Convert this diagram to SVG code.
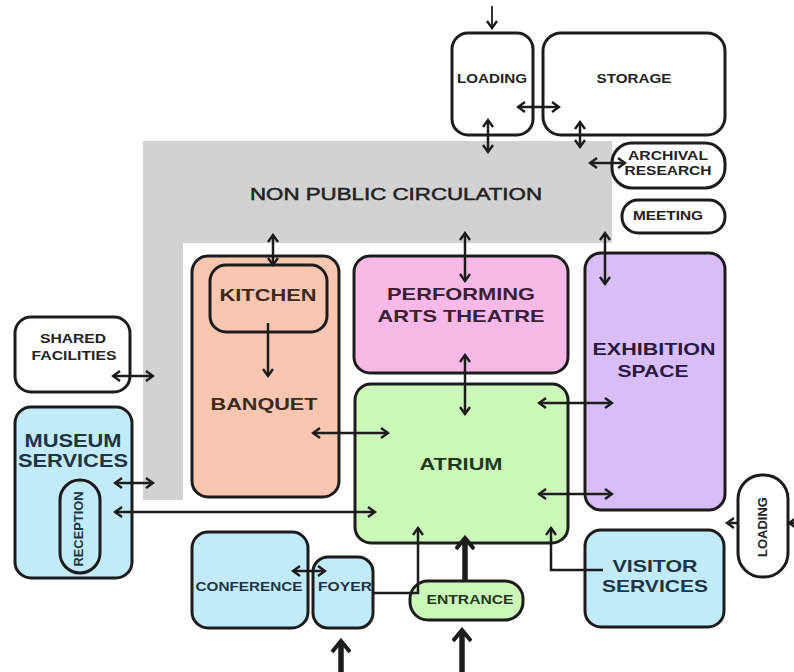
<svg xmlns="http://www.w3.org/2000/svg" width="794" height="672" viewBox="0 0 794 672">
<defs>
<style>
.box{stroke:#1c1c1c;stroke-width:3}
.t{font-family:"Liberation Sans",Arial,sans-serif;font-weight:bold;text-anchor:middle}
.c{fill:none;stroke:#1c1c1c;stroke-width:2.5}
.cb{fill:none;stroke:#1c1c1c;stroke-width:5.5}
.one{marker-end:url(#ah)}
.two{marker-start:url(#ah);marker-end:url(#ah)}
.big{marker-end:url(#ahb)}
</style>
<marker id="ah" viewBox="0 0 12 12" refX="10" refY="6" markerWidth="12" markerHeight="12" markerUnits="userSpaceOnUse" orient="auto-start-reverse">
<path d="M3,1 L10,6 L3,11" fill="none" stroke="#1c1c1c" stroke-width="2.4"/>
</marker>
<marker id="ahb" viewBox="0 0 20 20" refX="17" refY="10" markerWidth="20" markerHeight="20" markerUnits="userSpaceOnUse" orient="auto">
<path d="M6,1 L17,10 L6,19" fill="none" stroke="#1c1c1c" stroke-width="4"/>
</marker>
</defs>
<rect width="794" height="672" fill="#ffffff"/>

<g id="non-public-circulation">
<path d="M143,141 H612 V243 H183 V500 H143 Z" fill="#d2d2d2"/>
<text x="396" y="200" font-family="Liberation Sans, Arial, sans-serif" font-size="17" text-anchor="middle" fill="#222" stroke="#222" stroke-width="0.5" textLength="292" lengthAdjust="spacingAndGlyphs">NON PUBLIC CIRCULATION</text>
</g>

<g id="loading-top">
<rect class="box" x="452" y="33" width="81" height="102" rx="16" fill="#ffffff"/>
<text class="t" x="492" y="83" font-size="12" fill="#222" textLength="70" lengthAdjust="spacingAndGlyphs">LOADING</text>
</g>
<g id="storage">
<rect class="box" x="543" y="33" width="182" height="102" rx="18" fill="#ffffff"/>
<text class="t" x="634" y="83" font-size="12" fill="#222" textLength="75" lengthAdjust="spacingAndGlyphs">STORAGE</text>
</g>
<g id="archival-research">
<rect class="box" x="612" y="143" width="113" height="45" rx="20" fill="#ffffff"/>
<text class="t" x="668" y="160" font-size="12" fill="#222" textLength="80" lengthAdjust="spacingAndGlyphs">ARCHIVAL</text>
<text class="t" x="668" y="175" font-size="12" fill="#222" textLength="87" lengthAdjust="spacingAndGlyphs">RESEARCH</text>
</g>
<g id="meeting">
<rect class="box" x="622" y="200" width="103" height="33" rx="16" fill="#ffffff"/>
<text class="t" x="668" y="220" font-size="12" fill="#222" textLength="70" lengthAdjust="spacingAndGlyphs">MEETING</text>
</g>

<g id="banquet">
<rect class="box" x="192" y="256" width="147" height="241" rx="16" fill="#f9c6b0"/>
<text class="t" x="264" y="410" font-size="17" fill="#3b2a20" textLength="107" lengthAdjust="spacingAndGlyphs">BANQUET</text>
</g>
<g id="kitchen">
<rect class="box" x="210" y="265" width="117" height="67" rx="16" fill="#f9c6b0"/>
<text class="t" x="268" y="301" font-size="17" fill="#3b2a20" textLength="97" lengthAdjust="spacingAndGlyphs">KITCHEN</text>
</g>
<g id="performing-arts-theatre">
<rect class="box" x="354" y="256" width="214" height="117" rx="16" fill="#f8b8e8"/>
<text class="t" x="461" y="300" font-size="17" fill="#3a2035" textLength="148" lengthAdjust="spacingAndGlyphs">PERFORMING</text>
<text class="t" x="461" y="322" font-size="17" fill="#3a2035" textLength="167" lengthAdjust="spacingAndGlyphs">ARTS THEATRE</text>
</g>
<g id="atrium">
<rect class="box" x="355" y="384" width="213" height="159" rx="16" fill="#cbf7b8"/>
<text class="t" x="461" y="470" font-size="17" fill="#1f3a1a" textLength="83" lengthAdjust="spacingAndGlyphs">ATRIUM</text>
</g>
<g id="exhibition-space">
<rect class="box" x="585" y="253" width="140" height="257" rx="16" fill="#d9bdf7"/>
<text class="t" x="654" y="355" font-size="17" fill="#2a1a40" textLength="123" lengthAdjust="spacingAndGlyphs">EXHIBITION</text>
<text class="t" x="653" y="377" font-size="17" fill="#2a1a40" textLength="71" lengthAdjust="spacingAndGlyphs">SPACE</text>
</g>

<g id="shared-facilities">
<rect class="box" x="15" y="317" width="115" height="75" rx="16" fill="#ffffff"/>
<text class="t" x="73" y="343" font-size="12" fill="#222" textLength="66" lengthAdjust="spacingAndGlyphs">SHARED</text>
<text class="t" x="74" y="360" font-size="12" fill="#222" textLength="85" lengthAdjust="spacingAndGlyphs">FACILITIES</text>
</g>
<g id="museum-services">
<rect class="box" x="15" y="407" width="117" height="171" rx="16" fill="#c2ebf9"/>
<text class="t" x="73" y="447" font-size="18" fill="#1d3545" textLength="97" lengthAdjust="spacingAndGlyphs">MUSEUM</text>
<text class="t" x="73" y="467" font-size="18" fill="#1d3545" textLength="110" lengthAdjust="spacingAndGlyphs">SERVICES</text>
</g>
<g id="reception">
<rect class="box" x="60" y="480" width="40" height="93" rx="20" fill="#c2ebf9"/>
<text class="t" transform="translate(83,529) rotate(-90)" font-size="12" fill="#1d3545" textLength="75" lengthAdjust="spacingAndGlyphs">RECEPTION</text>
</g>

<g id="conference">
<rect class="box" x="192" y="532" width="116" height="96" rx="16" fill="#c2ebf9"/>
<text class="t" x="249" y="591" font-size="12" fill="#1d3545" textLength="107" lengthAdjust="spacingAndGlyphs">CONFERENCE</text>
</g>
<g id="foyer">
<rect class="box" x="313" y="557" width="60" height="71" rx="15" fill="#c2ebf9"/>
<text class="t" x="345" y="591" font-size="12" fill="#1d3545" textLength="54" lengthAdjust="spacingAndGlyphs">FOYER</text>
</g>
<g id="entrance">
<rect class="box" x="410" y="581" width="113" height="39" rx="18" fill="#cbf7b8"/>
<text class="t" x="470" y="604" font-size="12" fill="#1f3a1a" textLength="87" lengthAdjust="spacingAndGlyphs">ENTRANCE</text>
</g>
<g id="visitor-services">
<rect class="box" x="585" y="530" width="139" height="97" rx="16" fill="#c2ebf9"/>
<text class="t" x="655" y="572" font-size="17" fill="#1d3545" textLength="85" lengthAdjust="spacingAndGlyphs">VISITOR</text>
<text class="t" x="655" y="592" font-size="17" fill="#1d3545" textLength="106" lengthAdjust="spacingAndGlyphs">SERVICES</text>
</g>
<g id="loading-right">
<rect class="box" x="738" y="475" width="50" height="102" rx="24" fill="#ffffff"/>
<text class="t" transform="translate(767,527) rotate(-90)" font-size="12" fill="#222" textLength="60" lengthAdjust="spacingAndGlyphs">LOADING</text>
</g>

<g id="connectors">
<line class="c one" x1="492" y1="6" x2="492" y2="28" style="stroke-width:1.8"/>
<line class="c two" x1="518" y1="107" x2="559" y2="107"/>
<line class="c two" x1="488" y1="120" x2="488" y2="152"/>
<line class="c two" x1="580" y1="122" x2="580" y2="147"/>
<line class="c two" x1="590" y1="163" x2="625" y2="163"/>
<line class="c two" x1="273" y1="235" x2="273" y2="265"/>
<line class="c one" x1="268" y1="323" x2="268" y2="376"/>
<line class="c two" x1="465" y1="233" x2="465" y2="281"/>
<line class="c two" x1="465" y1="355" x2="465" y2="414"/>
<line class="c two" x1="313" y1="433" x2="388" y2="433"/>
<line class="c two" x1="605" y1="233" x2="605" y2="284"/>
<line class="c two" x1="539" y1="403" x2="612" y2="403"/>
<line class="c two" x1="539" y1="494" x2="612" y2="494"/>
<line class="c two" x1="113" y1="376" x2="153" y2="376"/>
<line class="c two" x1="115" y1="483" x2="153" y2="483"/>
<line class="c two" x1="115" y1="512" x2="375" y2="512"/>
<line class="c two" x1="293" y1="571" x2="325" y2="571"/>
<path class="c one" d="M373,593 H418 V528"/>
<path class="c one" d="M603,570 H551 V528"/>
<line class="c one" x1="738" y1="523" x2="727" y2="523"/>
<line class="c one" x1="800" y1="523" x2="789" y2="523"/>
<line class="cb big" x1="465" y1="581" x2="465" y2="538"/>
<line class="cb big" x1="341" y1="672" x2="341" y2="641"/>
<line class="cb big" x1="462" y1="672" x2="462" y2="630"/>
</g>
</svg>
